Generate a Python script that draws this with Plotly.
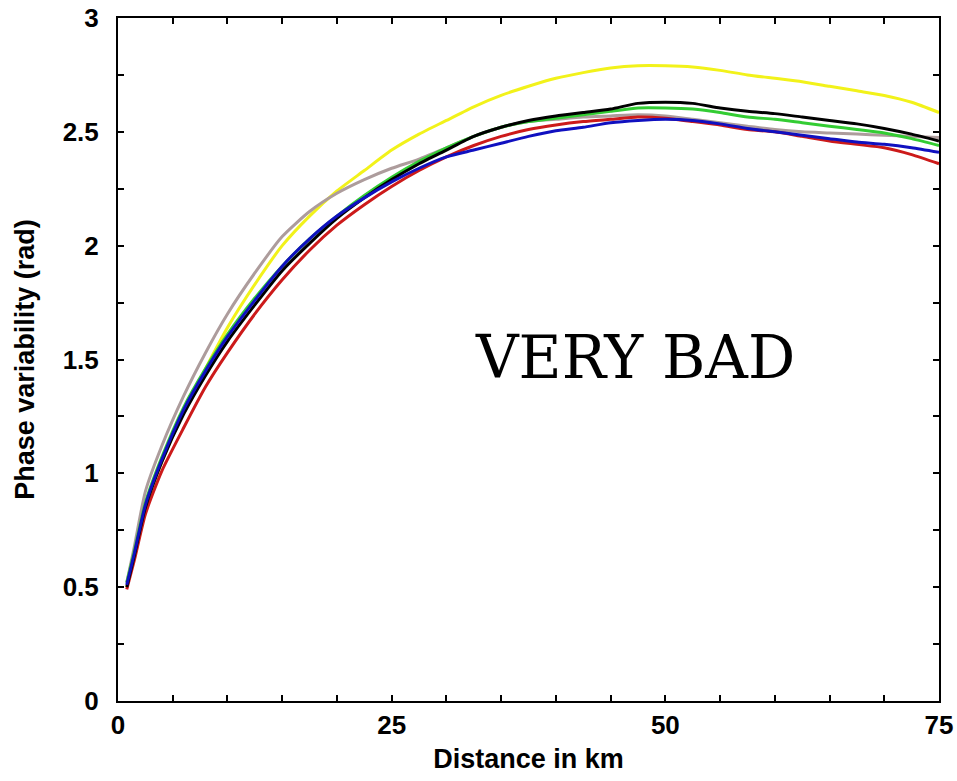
import plotly.graph_objects as go

distance_km = [0.8, 1.5, 2.5, 4, 6, 8, 10, 12.5, 15, 17.5, 20, 22.5, 25, 27.5, 30, 32.5,
               35, 37.5, 40, 42.5, 45, 47.5, 50, 52.5, 55, 57.5, 60, 62.5, 65, 67.5, 70, 72.5, 75]

red = [0.49, 0.62, 0.82, 1.01, 1.20, 1.38, 1.53, 1.70, 1.85, 1.98, 2.09, 2.18, 2.26, 2.33, 2.39, 2.44,
       2.48, 2.51, 2.53, 2.545, 2.555, 2.565, 2.56, 2.545, 2.53, 2.51, 2.50, 2.48, 2.46, 2.445, 2.43, 2.40, 2.36]
blue = [0.51, 0.65, 0.86, 1.06, 1.28, 1.45, 1.60, 1.76, 1.91, 2.03, 2.13, 2.21, 2.28, 2.34, 2.39, 2.42,
        2.45, 2.48, 2.505, 2.52, 2.54, 2.55, 2.555, 2.55, 2.535, 2.515, 2.50, 2.485, 2.47, 2.455, 2.445, 2.43, 2.41]
black = [0.50, 0.64, 0.85, 1.05, 1.26, 1.43, 1.58, 1.74, 1.89, 2.01, 2.12, 2.21, 2.29, 2.36, 2.42, 2.48,
         2.52, 2.55, 2.57, 2.585, 2.60, 2.625, 2.63, 2.625, 2.605, 2.59, 2.58, 2.565, 2.55, 2.535, 2.515, 2.49, 2.46]
green = [0.52, 0.66, 0.87, 1.07, 1.29, 1.46, 1.61, 1.77, 1.91, 2.03, 2.13, 2.22, 2.30, 2.37, 2.43, 2.48,
         2.52, 2.545, 2.56, 2.575, 2.59, 2.605, 2.605, 2.60, 2.585, 2.565, 2.555, 2.54, 2.525, 2.51, 2.495, 2.47, 2.44]
gray = [0.52, 0.68, 0.92, 1.12, 1.34, 1.53, 1.70, 1.88, 2.04, 2.15, 2.23, 2.29, 2.34, 2.38, 2.43, 2.48,
        2.52, 2.545, 2.555, 2.565, 2.57, 2.575, 2.57, 2.555, 2.54, 2.525, 2.51, 2.50, 2.495, 2.49, 2.485, 2.48, 2.475]
yellow = [0.50, 0.64, 0.85, 1.05, 1.27, 1.46, 1.64, 1.83, 2.00, 2.13, 2.24, 2.33, 2.42, 2.49, 2.55, 2.61,
          2.66, 2.70, 2.735, 2.76, 2.78, 2.79, 2.79, 2.785, 2.77, 2.75, 2.735, 2.72, 2.70, 2.68, 2.66, 2.63, 2.585]

series = [
    ("yellow", yellow, "#f2f21a"),
    ("gray", gray, "#ad9c9c"),
    ("red", red, "#cc1a1a"),
    ("green", green, "#33cc33"),
    ("black", black, "#000000"),
    ("blue", blue, "#1010c0"),
]

x_tick_vals = [0, 25, 50, 75]
y_tick_vals = [0, 0.5, 1, 1.5, 2, 2.5, 3]
y_tick_text = ["0", "0.5", "1", "1.5", "2", "2.5", "3"]

fig = go.Figure()
for name, vals, color in series:
    fig.add_trace(go.Scatter(x=distance_km, y=vals, mode="lines", name=name,
                             line=dict(color=color, width=3, shape="spline", smoothing=0.6)))

tickfont = dict(family="Liberation Sans", size=26, color="black", weight="bold")
titlefont = dict(family="Liberation Sans", size=27, color="black", weight="bold")

fig.update_layout(
    width=957, height=781,
    margin=dict(l=118, r=18, t=18, b=80),
    paper_bgcolor="white", plot_bgcolor="white",
    showlegend=False,
    annotations=[dict(x=47.2, y=1.507, xref="x", yref="y", text="VERY BAD", showarrow=False,
                      font=dict(family="DejaVu Serif", size=59, color="black"))],
)
fig.update_xaxes(range=[0, 75], tickvals=x_tick_vals, ticktext=[str(v) for v in x_tick_vals],
                 automargin=False, ticklabeloverflow="allow",
                 showgrid=False, zeroline=False, showline=True, linecolor="black", linewidth=2,
                 mirror="ticks", ticks="inside", ticklen=6, tickwidth=2, tickcolor="black",
                 minor=dict(dtick=5, ticks="inside", ticklen=6, tickwidth=2, tickcolor="black"),
                 tickfont=tickfont, ticklabelstandoff=0,
                 title=dict(text="Distance in km", font=titlefont, standoff=10))
fig.update_yaxes(range=[0, 3], tickvals=y_tick_vals, ticktext=y_tick_text,
                 automargin=False, ticklabeloverflow="allow",
                 showgrid=False, zeroline=False, showline=True, linecolor="black", linewidth=2,
                 mirror="ticks", ticks="inside", ticklen=6, tickwidth=2, tickcolor="black",
                 minor=dict(dtick=0.25, ticks="inside", ticklen=6, tickwidth=2, tickcolor="black"),
                 tickfont=tickfont, ticklabelstandoff=12,
                 title=dict(text="Phase variability (rad)", font=titlefont, standoff=20))

fig.write_html("out.html", config={"displayModeBar": False},
               post_script="document.body.style.margin='0';document.body.style.overflow='hidden';")
